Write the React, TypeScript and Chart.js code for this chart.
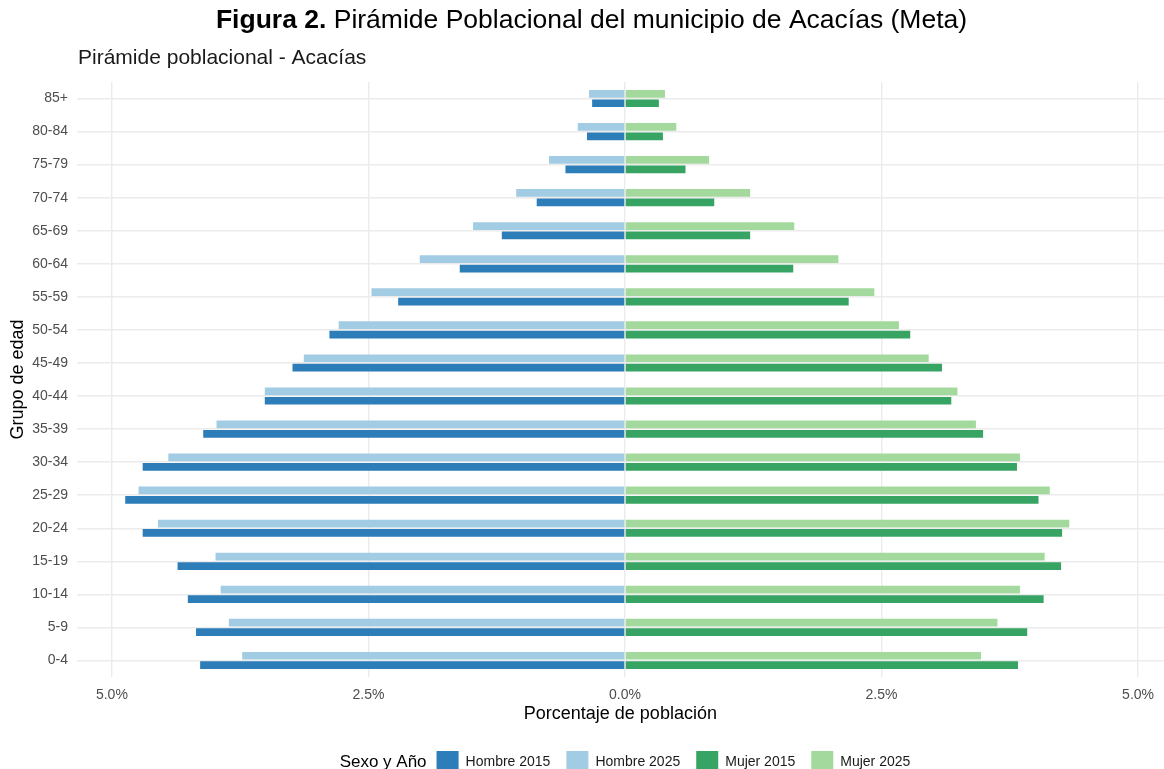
import React, { useEffect, useRef } from "react";
import { Chart, registerables } from "chart.js";

Chart.register(...registerables);

// ---- Data (percent of population) ----
const ageGroups = ["0-4", "5-9", "10-14", "15-19", "20-24", "25-29", "30-34", "35-39", "40-44", "45-49", "50-54", "55-59", "60-64", "65-69", "70-74", "75-79", "80-84", "85+"];
const hombre2015 = [4.14, 4.18, 4.26, 4.36, 4.70, 4.87, 4.70, 4.11, 3.51, 3.24, 2.88, 2.21, 1.61, 1.20, 0.86, 0.58, 0.37, 0.32];
const hombre2025 = [3.73, 3.86, 3.94, 3.99, 4.55, 4.74, 4.45, 3.98, 3.51, 3.13, 2.79, 2.47, 2.00, 1.48, 1.06, 0.74, 0.46, 0.35];
const mujer2015 = [3.83, 3.92, 4.08, 4.25, 4.26, 4.03, 3.82, 3.49, 3.18, 3.09, 2.78, 2.18, 1.64, 1.22, 0.87, 0.59, 0.37, 0.33];
const mujer2025 = [3.47, 3.63, 3.85, 4.09, 4.33, 4.14, 3.85, 3.42, 3.24, 2.96, 2.67, 2.43, 2.08, 1.65, 1.22, 0.82, 0.50, 0.39];

const seriesLabels = ["Hombre 2015", "Hombre 2025", "Mujer 2015", "Mujer 2025"];
const seriesColors = ["#2C7DB8", "#A2CCE3", "#37A463", "#A4D99D"];
const xTickValues = [-5, -2.5, 0, 2.5, 5];

const mainTitleBold = "Figura 2.";
const mainTitleRest = " Pirámide Poblacional del municipio de Acacías (Meta)";
const subTitle = "Pirámide poblacional - Acacías";
const xTitle = "Porcentaje de población";
const yTitle = "Grupo de edad";
const legendTitle = "Sexo y Año";

const FONT = "'Liberation Sans', Arial, Helvetica, sans-serif";
const GRID = "#EBEBEB";
const TICK = "#4D4D4D";

export default function App() {
  const ref = useRef<HTMLCanvasElement | null>(null);

  useEffect(() => {
    const canvas = ref.current;
    if (!canvas) return;

    // top-to-bottom order on the chart: 85+ first
    const labels = [...ageGroups].reverse();
    const rev = (a: number[]) => [...a].reverse();

    const decor = {
      id: "decor",
      afterLayout(chart: any) {
        const lg = chart.legend;
        if (!lg || !lg.lineWidths) return;
        const pad = lg.options.labels.padding;
        const lw = lg.lineWidths[0];
        const ctx = chart.ctx;
        ctx.save();
        ctx.font = `17px ${FONT}`;
        const tw = ctx.measureText(legendTitle).width;
        ctx.restore();
        const gap = 10;
        const total = tw + gap + lw - pad;
        const center = chart.scales.x.getPixelForValue(0);
        const firstBox = center - total / 2 + tw + gap;
        lg.left = firstBox - pad;
        lg.right = firstBox + lw;
        lg.width = lg.right - lg.left;
        const h = lg.height;
        lg.top = 735;
        lg.bottom = lg.top + h;
        chart.$legendTitle = { x: firstBox - gap, y: lg.top + pad + 11 };
      },
      afterDraw(chart: any) {
        const ctx = chart.ctx;
        ctx.save();
        ctx.fillStyle = "#000000";
        ctx.textBaseline = "middle";
        // main title with bold prefix
        ctx.font = `bold 26.5px ${FONT}`;
        const wb = ctx.measureText(mainTitleBold).width;
        ctx.font = `26.5px ${FONT}`;
        const wr = ctx.measureText(mainTitleRest).width;
        const start = 591.5 - (wb + wr) / 2;
        ctx.textAlign = "left";
        ctx.font = `bold 26.5px ${FONT}`;
        ctx.fillText(mainTitleBold, start, 21);
        ctx.font = `26.5px ${FONT}`;
        ctx.fillText(mainTitleRest, start + wb, 21);
        // subtitle
        ctx.font = `21px ${FONT}`;
        ctx.fillStyle = "#1A1A1A";
        ctx.fillText(subTitle, 78, 58);
        // legend title
        const lt = chart.$legendTitle;
        if (lt) {
          ctx.font = `17px ${FONT}`;
          ctx.textAlign = "right";
          ctx.fillStyle = "#000000";
          ctx.fillText(legendTitle, lt.x, lt.y);
        }
        ctx.restore();
      },
    };

    const ds = (i: number, data: number[], stack: string, neg: boolean) => ({
      label: seriesLabels[i],
      data: rev(data).map((v) => (neg ? -v : v)),
      backgroundColor: seriesColors[i],
      borderWidth: 0,
      stack,
      categoryPercentage: 0.57,
      barPercentage: 0.82,
    });

    const chart = new Chart(canvas, {
      type: "bar",
      data: {
        labels,
        datasets: [
          ds(1, hombre2025, "s2025", true),
          ds(3, mujer2025, "s2025", false),
          ds(0, hombre2015, "s2015", true),
          ds(2, mujer2015, "s2015", false),
        ],
      },
      options: {
        indexAxis: "y",
        animation: false,
        responsive: true,
        maintainAspectRatio: false,
        layout: { padding: { top: 82, left: 0, right: 0, bottom: 0 } },
        plugins: {
          title: { display: false },
          tooltip: { enabled: false },
          legend: {
            display: true,
            position: "bottom",
            labels: {
              boxWidth: 22,
              boxHeight: 22,
              padding: 16,
              color: "#1A1A1A",
              font: { family: FONT, size: 14 },
              sort: (a: any, b: any) => seriesLabels.indexOf(a.text) - seriesLabels.indexOf(b.text),
            },
          },
        },
        scales: {
          x: {
            type: "linear",
            stacked: true,
            min: -5.34,
            max: 5.25,
            afterBuildTicks: (s: any) => {
              s.ticks = xTickValues.map((v) => ({ value: v }));
            },
            afterFit: (s: any) => {
              s.height = 44;
            },
            ticks: {
              callback: (v: any) => Math.abs(Number(v)).toFixed(1) + "%",
              color: TICK,
              font: { family: FONT, size: 14 },
              padding: 10,
              autoSkip: false,
              maxRotation: 0,
            },
            grid: { color: GRID, lineWidth: 1.4, drawTicks: false },
            border: { display: false },
            title: {
              display: true,
              text: xTitle,
              color: "#000000",
              font: { family: FONT, size: 18, lineHeight: 1 },
              padding: { top: 0, bottom: -2 },
            },
          },
          y: {
            type: "category",
            offset: true,
            afterFit: (s: any) => {
              s.width = 77;
            },
            ticks: {
              color: TICK,
              font: { family: FONT, size: 14 },
              padding: 9,
              autoSkip: false,
            },
            grid: { color: GRID, lineWidth: 1.4, offset: false, drawTicks: false },
            border: { display: false },
            title: {
              display: true,
              text: yTitle,
              color: "#000000",
              font: { family: FONT, size: 18, lineHeight: 1 },
              padding: { top: 9, bottom: 0 },
            },
          },
        },
      },
      plugins: [decor],
    } as any);

    return () => {
      chart.destroy();
    };
  }, []);

  return (
    <div style={{ position: "fixed", left: 0, top: 0, width: 1164, height: 769, background: "#FFFFFF" }}>
      <canvas ref={ref} />
    </div>
  );
}
